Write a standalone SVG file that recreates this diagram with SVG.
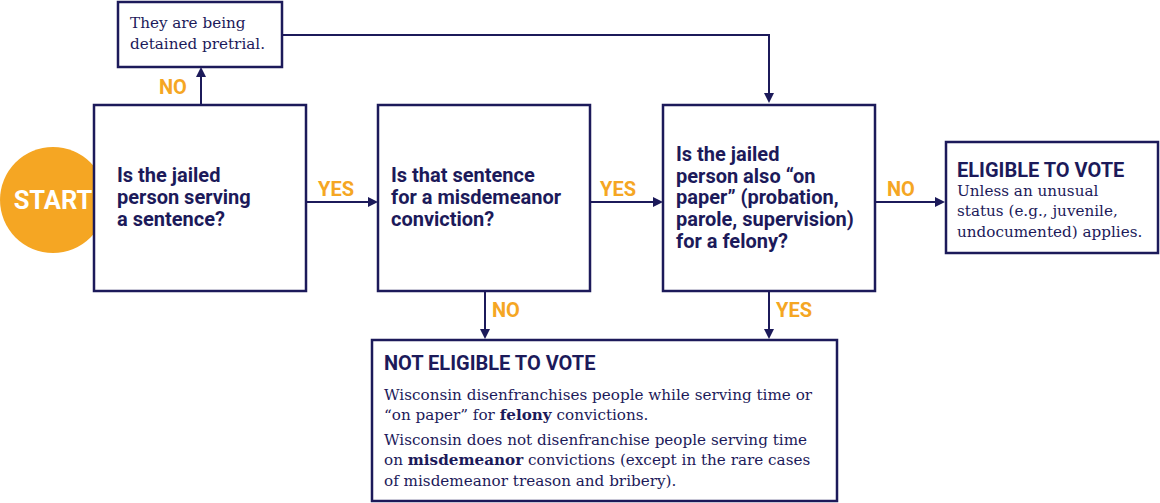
<svg xmlns="http://www.w3.org/2000/svg" width="1160" height="503" viewBox="0 0 1160 503">
<style>
.box{fill:#fff;stroke:#1c1a5a;stroke-width:2.5}
.q{font-family:Roboto,"Liberation Sans",sans-serif;font-weight:bold;font-size:20px;fill:#1c1a5a}
.s{font-family:"DejaVu Serif",serif;font-size:15.2px;fill:#1c1a5a}
.l{font-family:Roboto,"Liberation Sans",sans-serif;font-weight:bold;font-size:20px;fill:#f5a623}
.c{fill:none;stroke:#1c1a5a;stroke-width:2}
</style>
<defs><marker id="a" markerWidth="10" markerHeight="10" refX="8" refY="5" orient="auto" markerUnits="userSpaceOnUse"><path d="M0,0 L10,5 L0,10 Z" fill="#1c1a5a"/></marker></defs>
<rect width="1160" height="503" fill="#fff"/>
<g id="connectors">
<path class="c" d="M201,105 V69" marker-end="url(#a)"/>
<path class="c" d="M282,35 H769 V101" marker-end="url(#a)"/>
<path class="c" d="M306,202 H376" marker-end="url(#a)"/>
<path class="c" d="M590,202 H661" marker-end="url(#a)"/>
<path class="c" d="M875,202 H943" marker-end="url(#a)"/>
<path class="c" d="M485,291 V337" marker-end="url(#a)"/>
<path class="c" d="M769,291 V337" marker-end="url(#a)"/>
<text class="l" x="159" y="94">NO</text>
<text class="l" x="318" y="196">YES</text>
<text class="l" x="600" y="196">YES</text>
<text class="l" x="887" y="196">NO</text>
<text class="l" x="492" y="317">NO</text>
<text class="l" x="776" y="317">YES</text>
</g>
<g id="start"><circle cx="53" cy="200" r="53" fill="#f5a623"/><text x="53" y="209" text-anchor="middle" font-family="Roboto,'Liberation Sans',sans-serif" font-weight="bold" font-size="25.5" fill="#fff">START</text></g>
<g id="pretrial"><rect class="box" x="118" y="2" width="164" height="65"/><text class="s" x="130" y="28">They are being</text><text class="s" x="130" y="49">detained pretrial.</text></g>
<g id="q1"><rect class="box" x="94" y="105" width="212" height="186"/><text class="q" x="117" y="182">Is the jailed</text><text class="q" x="117" y="204">person serving</text><text class="q" x="117" y="226">a sentence?</text></g>
<g id="q2"><rect class="box" x="378" y="105" width="212" height="186"/><text class="q" x="391" y="182">Is that sentence</text><text class="q" x="391" y="204">for a misdemeanor</text><text class="q" x="391" y="226">conviction?</text></g>
<g id="q3"><rect class="box" x="663" y="105" width="212" height="186"/><text class="q" x="676" y="161">Is the jailed</text><text class="q" x="676" y="183">person also “on</text><text class="q" x="676" y="204">paper” (probation,</text><text class="q" x="676" y="226">parole, supervision)</text><text class="q" x="676" y="248">for a felony?</text></g>
<g id="eligible"><rect class="box" x="946" y="142" width="212" height="111"/><text class="q" x="957" y="177">ELIGIBLE TO VOTE</text><text class="s" x="957" y="196">Unless an unusual</text><text class="s" x="957" y="216">status (e.g., juvenile,</text><text class="s" x="957" y="237">undocumented) applies.</text></g>
<g id="noteligible"><rect class="box" x="372" y="340" width="465" height="161"/><text class="q" x="384" y="370">NOT ELIGIBLE TO VOTE</text><text class="s" x="384" y="400">Wisconsin disenfranchises people while serving time or</text><text class="s" x="384" y="420">“on paper” for <tspan font-weight="bold">felony</tspan> convictions.</text><text class="s" x="384" y="445">Wisconsin does not disenfranchise people serving time</text><text class="s" x="384" y="465">on <tspan font-weight="bold">misdemeanor</tspan> convictions (except in the rare cases</text><text class="s" x="384" y="486">of misdemeanor treason and bribery).</text></g>
</svg>
